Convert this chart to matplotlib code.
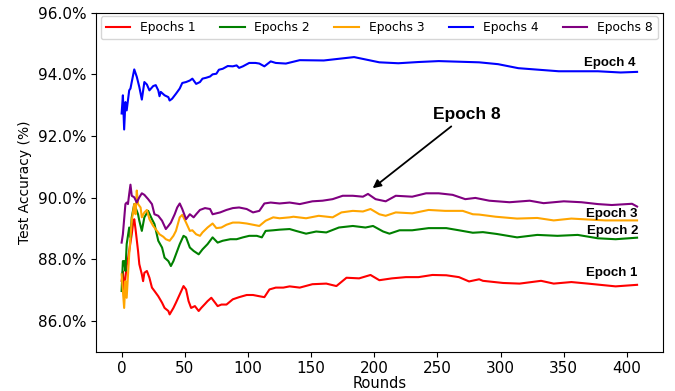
import numpy as np
import matplotlib.pyplot as plt
from matplotlib.ticker import PercentFormatter

#%% data (rounds, test accuracy in %)

rounds_e1 = [0, 1, 2, 3, 4, 5, 6, 8, 9, 10, 11, 13, 14, 16, 17, 18, 20, 22, 24, 26, 29, 32, 34, 37, 38,
             41, 43, 46, 49, 51, 53, 55, 58, 61, 63, 66, 68, 71, 74, 76, 79, 83, 88, 93, 99, 104, 109,
             113, 117, 122, 128, 133, 141, 151, 162, 170, 178, 188, 197, 204, 214, 225, 235, 246, 257,
             267, 275, 283, 286, 302, 315, 332, 342, 356, 369, 391, 408]
acc_e1 = [87.3, 87.6, 87.0, 87.4, 87.8, 88.0, 88.27, 88.81, 89.14, 89.3, 88.98, 88.27, 87.84, 87.51, 87.29,
          87.56, 87.62, 87.4, 87.08, 86.97, 86.8, 86.59, 86.42, 86.32, 86.21, 86.42, 86.59, 86.86, 87.13,
          87.02, 86.64, 86.42, 86.48, 86.32, 86.42, 86.55, 86.64, 86.75, 86.59, 86.48, 86.53, 86.53, 86.7,
          86.77, 86.84, 86.84, 86.8, 86.77, 87.02, 87.08, 87.08, 87.12, 87.08, 87.19, 87.21, 87.13, 87.4,
          87.38, 87.49, 87.32, 87.38, 87.42, 87.42, 87.49, 87.48, 87.42, 87.28, 87.35, 87.3, 87.23, 87.21,
          87.3, 87.21, 87.26, 87.21, 87.12, 87.17]

rounds_e2 = [0, 1, 2, 3, 4, 6, 7, 8, 10, 11, 13, 14, 16, 18, 21, 24, 26, 29, 32, 34, 37, 39, 41, 43, 46,
             49, 51, 54, 57, 61, 64, 68, 72, 76, 80, 86, 91, 96, 101, 107, 111, 114, 120, 125, 133, 138,
             146, 154, 162, 172, 183, 193, 199, 207, 212, 220, 230, 243, 257, 267, 278, 286, 297, 313,
             329, 345, 361, 377, 391, 408]
acc_e2 = [86.97, 87.94, 87.94, 87.62, 88.49, 89.03, 88.71, 89.36, 89.79, 89.68, 89.46, 89.25, 88.92, 89.36,
          89.57, 89.3, 89.14, 88.6, 88.38, 88.05, 87.94, 87.78, 87.94, 88.16, 88.49, 88.76, 88.71, 88.38,
          88.27, 88.16, 88.32, 88.49, 88.71, 88.54, 88.6, 88.65, 88.65, 88.71, 88.76, 88.76, 88.71, 88.92,
          88.94, 88.96, 88.98, 88.92, 88.83, 88.9, 88.87, 89.03, 89.08, 89.03, 89.08, 88.9, 88.83, 88.94,
          88.94, 89.01, 89.01, 88.94, 88.86, 88.88, 88.82, 88.71, 88.79, 88.76, 88.79, 88.68, 88.65, 88.7]

rounds_e3 = [0, 2, 3, 4, 6, 7, 8, 10, 11, 12, 13, 15, 16, 18, 20, 22, 25, 28, 30, 33, 35, 38, 41, 43, 46,
             48, 51, 54, 56, 59, 62, 64, 68, 72, 75, 79, 83, 88, 93, 99, 104, 109, 114, 120, 125, 133,
             136, 146, 156, 167, 174, 183, 191, 197, 204, 209, 217, 230, 243, 256, 270, 278, 283, 296,
             313, 329, 342, 356, 369, 383, 396, 408]
acc_e3 = [87.51, 86.42, 87.29, 86.75, 88.16, 88.71, 89.25, 89.79, 89.46, 90.23, 89.79, 89.68, 89.36, 89.52,
          89.6, 89.3, 89.08, 88.92, 88.81, 88.73, 88.65, 88.6, 88.76, 88.92, 89.36, 89.44, 89.19, 88.92,
          88.94, 88.81, 88.76, 88.87, 89.03, 89.16, 89.01, 89.03, 89.12, 89.19, 89.19, 89.16, 89.12, 89.08,
          89.25, 89.36, 89.33, 89.36, 89.38, 89.33, 89.41, 89.36, 89.52, 89.57, 89.55, 89.63, 89.46, 89.41,
          89.52, 89.49, 89.6, 89.57, 89.57, 89.46, 89.45, 89.38, 89.32, 89.34, 89.26, 89.32, 89.29, 89.26,
          89.26, 89.26]

rounds_e4 = [0, 1, 2, 3, 4, 6, 7, 8, 10, 12, 14, 16, 18, 20, 22, 25, 27, 29, 30, 31, 34, 37, 38, 40, 43,
             46, 48, 51, 54, 56, 59, 62, 64, 67, 70, 72, 75, 77, 80, 84, 88, 91, 93, 96, 101, 106, 109,
             113, 118, 122, 130, 141, 160, 184, 204, 219, 235, 251, 283, 298, 314, 330, 346, 377, 395, 408]
acc_e4 = [92.73, 93.32, 92.21, 93.1, 92.83, 93.48, 93.54, 93.75, 94.16, 93.92, 93.59, 93.18, 93.75, 93.67,
          93.48, 93.62, 93.65, 93.48, 93.29, 93.43, 93.32, 93.26, 93.15, 93.21, 93.37, 93.54, 93.72, 93.75,
          93.8, 93.86, 93.69, 93.75, 93.86, 93.89, 93.93, 94.0, 94.02, 94.15, 94.18, 94.27, 94.26, 94.29,
          94.21, 94.26, 94.37, 94.37, 94.35, 94.26, 94.42, 94.37, 94.35, 94.46, 94.45, 94.56, 94.39, 94.36,
          94.4, 94.43, 94.39, 94.33, 94.2, 94.15, 94.1, 94.1, 94.06, 94.08]

rounds_e8 = [0, 1, 3, 4, 5, 6, 7, 8, 10, 12, 14, 16, 18, 21, 24, 26, 29, 32, 35, 37, 39, 42, 44, 46, 48,
             51, 54, 57, 59, 62, 66, 70, 72, 78, 83, 88, 93, 99, 104, 109, 113, 118, 125, 133, 141, 151,
             159, 167, 175, 183, 191, 195, 201, 209, 217, 230, 241, 251, 262, 272, 280, 291, 307, 323,
             334, 350, 364, 377, 388, 404, 408]
acc_e8 = [88.54, 88.81, 89.79, 89.84, 89.79, 90.12, 90.42, 90.06, 90.01, 89.84, 90.01, 90.14, 90.09, 89.95,
          89.79, 89.46, 89.41, 89.25, 88.98, 89.08, 89.19, 89.46, 89.68, 89.81, 89.63, 89.3, 89.46, 89.36,
          89.46, 89.6, 89.66, 89.63, 89.46, 89.52, 89.6, 89.66, 89.68, 89.63, 89.52, 89.57, 89.81, 89.84,
          89.81, 89.84, 89.79, 89.88, 89.9, 89.95, 90.06, 90.06, 90.03, 90.12, 89.95, 89.88, 90.06, 90.03,
          90.14, 90.14, 90.09, 89.95, 89.99, 89.9, 89.85, 89.9, 89.82, 89.88, 89.85, 89.79, 89.76, 89.8,
          89.71]

#%% plot

fig = plt.figure(figsize=(6.75, 3.91), dpi=100)
ax = fig.add_axes([0.142, 0.1005, 0.840, 0.867])

ax.plot(rounds_e1, acc_e1, color='red', lw=1.5, label='Epochs 1')
ax.plot(rounds_e2, acc_e2, color='green', lw=1.5, label='Epochs 2')
ax.plot(rounds_e3, acc_e3, color='orange', lw=1.5, label='Epochs 3')
ax.plot(rounds_e4, acc_e4, color='blue', lw=1.5, label='Epochs 4')
ax.plot(rounds_e8, acc_e8, color='purple', lw=1.5, label='Epochs 8')

ax.set_ylim(85, 96)
ax.set_yticks(np.arange(86, 97, 2))
ax.yaxis.set_major_formatter(PercentFormatter(xmax=100, decimals=1))
ax.set_xticks(np.arange(0, 401, 50))
ax.tick_params(labelsize=11)
ax.set_xlabel('Rounds', fontsize=10.5, labelpad=0)
ax.set_ylabel('Test Accuracy (%)', fontsize=10)

bold = dict(family='Liberation Sans', weight='bold', fontsize=9.5, ha='center')
ax.text(386, 94.36, 'Epoch 4', va='center', **bold)
ax.text(388, 89.48, 'Epoch 3', va='center', **bold)
ax.text(389, 88.92, 'Epoch 2', va='center', **bold)
ax.text(388, 87.55, 'Epoch 1', va='center', **bold)
ax.annotate('Epoch 8', xy=(197, 90.25), xytext=(273, 92.7),
            family='Liberation Sans', weight='bold', fontsize=12.5, ha='center', va='center',
            arrowprops=dict(arrowstyle='-|>', color='black', lw=1.3, mutation_scale=12))

ax.legend(loc='upper center', ncol=5, fontsize=8.8, borderaxespad=0.3, columnspacing=2.0)

plt.savefig('out.png', dpi=100)
